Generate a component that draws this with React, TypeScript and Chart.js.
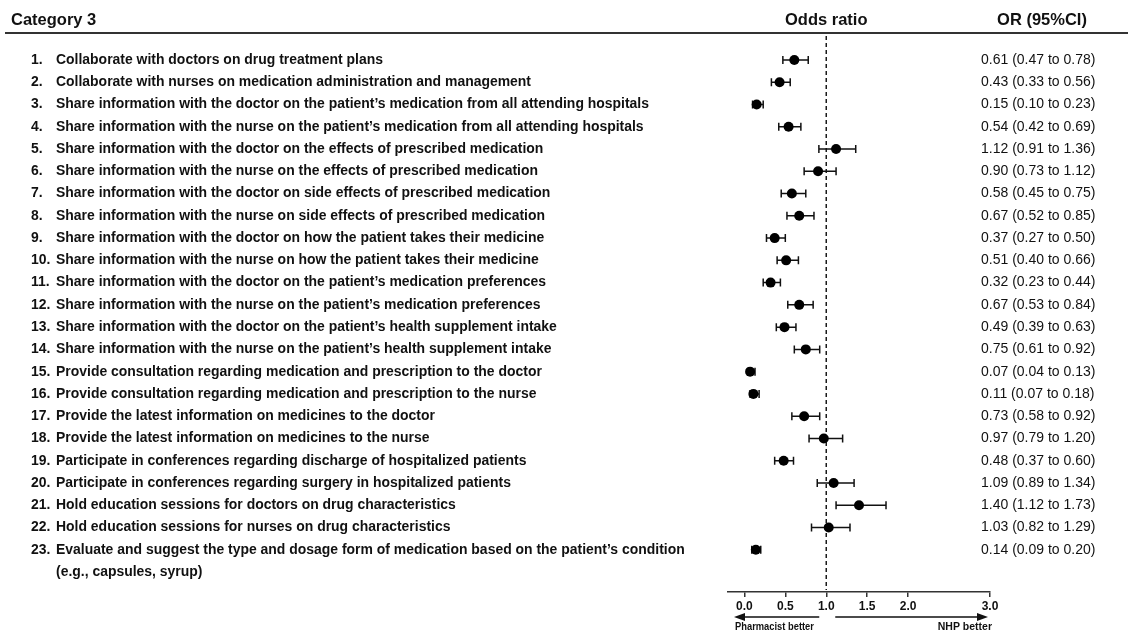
import React, { useEffect, useRef } from "react";
import { Chart, registerables } from "chart.js";

Chart.register(...registerables);

const titleText = "Category 3";
const plotHeader = "Odds ratio";
const valueHeader = "OR (95%CI)";

const itemLabels: string[][] = [
  ["Collaborate with doctors on drug treatment plans"],
  ["Collaborate with nurses on medication administration and management"],
  ["Share information with the doctor on the patient\u2019s medication from all attending hospitals"],
  ["Share information with the nurse on the patient\u2019s medication from all attending hospitals"],
  ["Share information with the doctor on the effects of prescribed medication"],
  ["Share information with the nurse on the effects of prescribed medication"],
  ["Share information with the doctor on side effects of prescribed medication"],
  ["Share information with the nurse on side effects of prescribed medication"],
  ["Share information with the doctor on how the patient takes their medicine"],
  ["Share information with the nurse on how the patient takes their medicine"],
  ["Share information with the doctor on the patient\u2019s medication preferences"],
  ["Share information with the nurse on the patient\u2019s medication preferences"],
  ["Share information with the doctor on the patient\u2019s health supplement intake"],
  ["Share information with the nurse on the patient\u2019s health supplement intake"],
  ["Provide consultation regarding medication and prescription to the doctor"],
  ["Provide consultation regarding medication and prescription to the nurse"],
  ["Provide the latest information on medicines to the doctor"],
  ["Provide the latest information on medicines to the nurse"],
  ["Participate in conferences regarding discharge of hospitalized patients"],
  ["Participate in conferences regarding surgery in hospitalized patients"],
  ["Hold education sessions for doctors on drug characteristics"],
  ["Hold education sessions for nurses on drug characteristics"],
  [
    "Evaluate and suggest the type and dosage form of medication based on the patient\u2019s condition",
    "(e.g., capsules, syrup)",
  ],
];

const orValues = [
  0.61, 0.43, 0.15, 0.54, 1.12, 0.9, 0.58, 0.67, 0.37, 0.51, 0.32, 0.67, 0.49,
  0.75, 0.07, 0.11, 0.73, 0.97, 0.48, 1.09, 1.4, 1.03, 0.14,
];
const ciLower = [
  0.47, 0.33, 0.1, 0.42, 0.91, 0.73, 0.45, 0.52, 0.27, 0.4, 0.23, 0.53, 0.39,
  0.61, 0.04, 0.07, 0.58, 0.79, 0.37, 0.89, 1.12, 0.82, 0.09,
];
const ciUpper = [
  0.78, 0.56, 0.23, 0.69, 1.36, 1.12, 0.75, 0.85, 0.5, 0.66, 0.44, 0.84, 0.63,
  0.92, 0.13, 0.18, 0.92, 1.2, 0.6, 1.34, 1.73, 1.29, 0.2,
];

const xTicks = [0, 0.5, 1, 1.5, 2, 3];
const leftNote = "Pharmacist better";
const rightNote = "NHP better";

const NARROW = '"Liberation Sans Narrow", "Arial Narrow", "Liberation Sans", Arial, sans-serif';
const SANS = '"Liberation Sans", Arial, sans-serif';

function drawScaled(
  ctx: CanvasRenderingContext2D,
  text: string,
  x: number,
  y: number,
  sx: number
) {
  ctx.save();
  ctx.translate(x, y);
  ctx.scale(sx, 1);
  ctx.fillText(text, 0, 0);
  ctx.restore();
}

const forestPlugin = {
  id: "forest",
  beforeDatasetsDraw(chart: any) {
    const { ctx, scales, chartArea } = chart;
    const xs = scales.x;
    const ys = scales.y;
    ctx.save();
    const x1 = xs.getPixelForValue(1);
    ctx.strokeStyle = "#1a1a1a";
    ctx.lineWidth = 1.5;
    ctx.setLineDash([4, 3]);
    ctx.beginPath();
    ctx.moveTo(x1, chartArea.top - 4);
    ctx.lineTo(x1, chartArea.bottom - 2);
    ctx.stroke();
    ctx.setLineDash([]);
    ctx.lineWidth = 1.5;
    ctx.strokeStyle = "#111";
    for (let i = 0; i < orValues.length; i++) {
      const py = ys.getPixelForValue(i + 1);
      const lx = xs.getPixelForValue(ciLower[i]);
      const ux = xs.getPixelForValue(ciUpper[i]);
      ctx.beginPath();
      ctx.moveTo(lx, py);
      ctx.lineTo(ux, py);
      ctx.moveTo(lx, py - 4);
      ctx.lineTo(lx, py + 4);
      ctx.moveTo(ux, py - 4);
      ctx.lineTo(ux, py + 4);
      ctx.stroke();
    }
    ctx.restore();
  },
  afterDraw(chart: any) {
    const { ctx, scales, chartArea } = chart;
    const xs = scales.x;
    const ys = scales.y;
    const rowGap = Math.abs(ys.getPixelForValue(2) - ys.getPixelForValue(1));
    ctx.save();
    ctx.fillStyle = "#111";
    ctx.textBaseline = "alphabetic";

    ctx.font = `bold 16.5px ${SANS}`;
    ctx.textAlign = "left";
    ctx.fillText(titleText, 11, 25);
    ctx.textAlign = "center";
    ctx.fillText(plotHeader, xs.getPixelForValue(1), 25);
    ctx.fillText(valueHeader, 1042, 25);

    ctx.strokeStyle = "#333";
    ctx.lineWidth = 2;
    ctx.beginPath();
    ctx.moveTo(5, 33);
    ctx.lineTo(1128, 33);
    ctx.stroke();

    ctx.font = `bold 14px ${NARROW}`;
    const refW = ctx.measureText(itemLabels[2][0]).width;
    const sx = refW > 0 ? Math.min(1, 593 / refW) : 1;
    ctx.textBaseline = "middle";
    ctx.textAlign = "left";
    for (let i = 0; i < itemLabels.length; i++) {
      const py = ys.getPixelForValue(i + 1);
      drawScaled(ctx, `${i + 1}.`, 31, py, sx);
      itemLabels[i].forEach((line, k) => {
        drawScaled(ctx, line, 56, py + k * rowGap, sx);
      });
    }

    ctx.font = `14px ${SANS}`;
    for (let i = 0; i < orValues.length; i++) {
      const py = ys.getPixelForValue(i + 1);
      const t = `${orValues[i].toFixed(2)} (${ciLower[i].toFixed(2)} to ${ciUpper[i].toFixed(2)})`;
      ctx.fillText(t, 981, py);
    }

    const ay = 617;
    const x1 = xs.getPixelForValue(1);
    ctx.strokeStyle = "#111";
    ctx.lineWidth = 1.5;
    const leftEnd = chartArea.left + 6;
    const rightEnd = chartArea.right - 2;
    ctx.beginPath();
    ctx.moveTo(x1 - 7, ay);
    ctx.lineTo(leftEnd + 8, ay);
    ctx.moveTo(x1 + 9, ay);
    ctx.lineTo(rightEnd - 8, ay);
    ctx.stroke();
    ctx.beginPath();
    ctx.moveTo(leftEnd, ay);
    ctx.lineTo(leftEnd + 11, ay - 4);
    ctx.lineTo(leftEnd + 11, ay + 4);
    ctx.closePath();
    ctx.fill();
    ctx.beginPath();
    ctx.moveTo(rightEnd, ay);
    ctx.lineTo(rightEnd - 11, ay - 4);
    ctx.lineTo(rightEnd - 11, ay + 4);
    ctx.closePath();
    ctx.fill();

    ctx.font = `bold 10.5px ${SANS}`;
    ctx.textBaseline = "middle";
    ctx.textAlign = "left";
    drawScaled(ctx, leftNote, leftEnd + 1, 627, 0.89);
    ctx.textAlign = "right";
    ctx.fillText(rightNote, rightEnd + 4, 627);
    ctx.restore();
  },
};

export default function App() {
  const canvasRef = useRef<HTMLCanvasElement | null>(null);

  useEffect(() => {
    const canvas = canvasRef.current;
    if (!canvas) return;
    const chart = new Chart(canvas, {
      type: "scatter",
      data: {
        datasets: [
          {
            data: orValues.map((v, i) => ({ x: v, y: i + 1 })),
            backgroundColor: "#000",
            borderWidth: 0,
            pointRadius: 5,
            pointHoverRadius: 5,
          },
        ],
      },
      options: {
        responsive: false,
        animation: false,
        events: [],
        layout: { padding: { left: 728, right: 138, top: 40, bottom: 0 } },
        plugins: { legend: { display: false }, tooltip: { enabled: false } },
        scales: {
          x: {
            type: "linear",
            min: -0.2,
            max: 3,
            afterBuildTicks: (scale: any) => {
              scale.ticks = xTicks.map((v) => ({ value: v }));
            },
            afterFit: (scale: any) => {
              scale.height = 41;
            },
            grid: {
              display: true,
              drawOnChartArea: false,
              drawTicks: true,
              tickLength: 5,
              color: "#333",
              lineWidth: 1.5,
            },
            border: { display: true, color: "#333", width: 1.5 },
            ticks: {
              color: "#111",
              padding: 2,
              maxRotation: 0,
              autoSkip: false,
              font: { family: SANS, size: 12, weight: "bold" },
              callback: (v: any) => Number(v).toFixed(1),
            },
          },
          y: {
            type: "linear",
            display: false,
            reverse: true,
            min: 0.1,
            max: 24.9,
          },
        },
      },
      plugins: [forestPlugin],
    });
    return () => chart.destroy();
  }, []);

  return (
    <div style={{ position: "fixed", left: 0, top: 0, width: 1128, height: 633, background: "#fff" }}>
      <canvas ref={canvasRef} width={1128} height={633} />
    </div>
  );
}
